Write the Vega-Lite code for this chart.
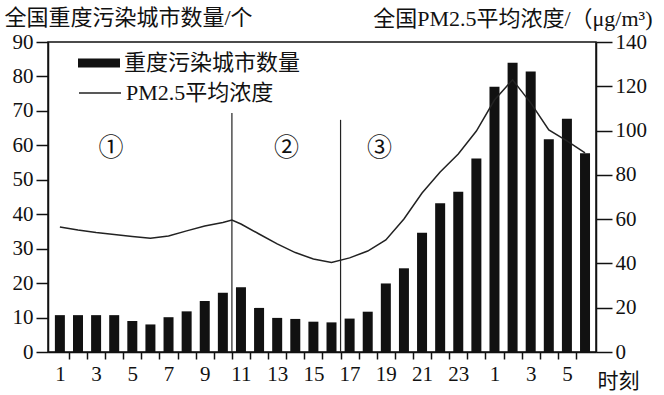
{
  "$schema": "https://vega.github.io/schema/vega-lite/v6.json",
  "width": 548,
  "height": 310,
  "autosize": "none",
  "padding": {"left": 48, "top": 42, "right": 68, "bottom": 43},
  "background": "white",
  "config": {
    "view": {"stroke": "#111", "strokeWidth": 1.5},
    "font": "Liberation Serif, Noto Sans CJK SC",
    "axis": {
      "domainColor": "#111", "domainWidth": 1.5, "tickColor": "#111", "tickWidth": 1.5,
      "labelColor": "#111", "titleColor": "#111", "grid": false,
      "labelFont": "Liberation Serif", "labelFontSize": 21,
      "titleFont": "Liberation Serif, Noto Sans CJK SC", "titleFontWeight": "normal", "titleLimit": 600
    },
    "legend": {"padding": 0, "labelColor": "#111", "labelFont": "Liberation Serif, Noto Sans CJK SC", "labelFontSize": 22, "labelOffset": 4, "labelLimit": 600}
  },
  "datasets": {
    "hourly": [
      {"idx": 1, "count": 10.7}, {"idx": 2, "count": 10.7}, {"idx": 3, "count": 10.7},
      {"idx": 4, "count": 10.7}, {"idx": 5, "count": 9.0}, {"idx": 6, "count": 8.0},
      {"idx": 7, "count": 10.1}, {"idx": 8, "count": 11.8}, {"idx": 9, "count": 14.8},
      {"idx": 10, "count": 17.2}, {"idx": 11, "count": 18.8}, {"idx": 12, "count": 12.8},
      {"idx": 13, "count": 9.9}, {"idx": 14, "count": 9.6}, {"idx": 15, "count": 8.8},
      {"idx": 16, "count": 8.6}, {"idx": 17, "count": 9.7}, {"idx": 18, "count": 11.7},
      {"idx": 19, "count": 19.9}, {"idx": 20, "count": 24.3}, {"idx": 21, "count": 34.6},
      {"idx": 22, "count": 43.2}, {"idx": 23, "count": 46.5}, {"idx": 24, "count": 56.2},
      {"idx": 25, "count": 77.0}, {"idx": 26, "count": 84.0}, {"idx": 27, "count": 81.4},
      {"idx": 28, "count": 61.8}, {"idx": 29, "count": 67.7}, {"idx": 30, "count": 57.7}
    ],
    "pm": [
      {"idx": 1, "pm": 56.5}, {"idx": 2, "pm": 55.1}, {"idx": 3, "pm": 54.0},
      {"idx": 4, "pm": 53.1}, {"idx": 5, "pm": 52.2}, {"idx": 6, "pm": 51.4},
      {"idx": 7, "pm": 52.4}, {"idx": 8, "pm": 54.7}, {"idx": 9, "pm": 56.9},
      {"idx": 10, "pm": 58.5}, {"idx": 10.5, "pm": 59.6}, {"idx": 11, "pm": 57.8},
      {"idx": 12, "pm": 53.3}, {"idx": 13, "pm": 48.8}, {"idx": 14, "pm": 44.9},
      {"idx": 15, "pm": 42.0}, {"idx": 16, "pm": 40.4}, {"idx": 17, "pm": 42.5},
      {"idx": 18, "pm": 45.6}, {"idx": 19, "pm": 50.6}, {"idx": 20, "pm": 60.1},
      {"idx": 21, "pm": 71.8}, {"idx": 22, "pm": 81.3}, {"idx": 23, "pm": 89.4},
      {"idx": 24, "pm": 99.8}, {"idx": 25, "pm": 113.8}, {"idx": 26, "pm": 122.9},
      {"idx": 27, "pm": 112.5}, {"idx": 28, "pm": 100.3}, {"idx": 29, "pm": 95.3},
      {"idx": 30, "pm": 89.9}
    ],
    "dividers": [
      {"idx": 10.5, "count": 69.4},
      {"idx": 16.5, "count": 67.4}
    ],
    "zones": [
      {"idx": 3.82, "count": 59.1, "label": "①"},
      {"idx": 13.52, "count": 59.1, "label": "②"},
      {"idx": 18.65, "count": 59.1, "label": "③"}
    ]
  },
  "encoding": {
    "x": {
      "field": "idx", "type": "quantitative",
      "scale": {"domain": [0.62, 30.33], "nice": false, "zero": false},
      "axis": {
        "values": [1, 1.5, 2, 2.5, 3, 3.5, 4, 4.5, 5, 5.5, 6, 6.5, 7, 7.5, 8, 8.5, 9, 9.5, 10, 10.5, 11, 11.5, 12, 12.5, 13, 13.5, 14, 14.5, 15, 15.5, 16, 16.5, 17, 17.5, 18, 18.5, 19, 19.5, 20, 20.5, 21, 21.5, 22, 22.5, 23, 23.5, 24, 24.5, 25, 25.5, 26, 26.5, 27, 27.5, 28, 28.5, 29, 29.5],
        "labelExpr": "(datum.value % 2 == 1) ? '' + (datum.value > 24 ? datum.value - 24 : datum.value) : ''",
        "labelOverlap": false, "labelFlush": false, "labelBound": false,
        "tickSize": 7, "labelPadding": 4,
        "tickOpacity": {"condition": {"test": "datum.value % 1 == 0", "value": 0}, "value": 1},
        "title": "时刻", "titleFontSize": 21, "titleAngle": 0,
        "titleAlign": "left", "titleBaseline": "middle", "titleX": 549, "titleY": 29
      }
    }
  },
  "layer": [
    {
      "encoding": {
        "y": {
          "field": "count", "type": "quantitative",
          "scale": {"domain": [0, 90], "nice": false},
          "axis": {
            "orient": "left", "values": [0, 10, 20, 30, 40, 50, 60, 70, 80, 90],
            "tickSize": 12, "labelPadding": 3,
            "title": "全国重度污染城市数量/个", "titleFontSize": 22, "titleAngle": 0,
            "titleAlign": "left", "titleBaseline": "middle", "titleX": -44, "titleY": -25
          }
        }
      },
      "layer": [
        {
          "data": {"name": "hourly"},
          "mark": {"type": "bar", "size": 10, "orient": "vertical", "color": "#111"},
          "encoding": {
            "fill": {
              "datum": "重度污染城市数量", "type": "nominal",
              "scale": {"range": ["#111"]},
              "legend": {
                "orient": "none", "legendX": 30, "legendY": 0, "title": null,
                "symbolType": "M-1,-0.214H1V0.214H-1Z", "symbolSize": 1764, "symbolStrokeWidth": 0
              }
            }
          }
        },
        {
          "data": {"name": "dividers"},
          "mark": {"type": "rule", "color": "#222", "strokeWidth": 1.2},
          "encoding": {
            "y2": {"datum": 0}
          }
        },
        {
          "data": {"name": "zones"},
          "mark": {"type": "text", "fontSize": 25, "color": "#111", "baseline": "middle", "align": "center", "font": "Noto Sans CJK SC"},
          "encoding": {
            "text": {"field": "label"}
          }
        }
      ]
    },
    {
      "data": {"name": "pm"},
      "mark": {"type": "line", "strokeWidth": 1.5},
      "encoding": {
        "y": {
          "field": "pm", "type": "quantitative",
          "scale": {"domain": [0, 140], "nice": false},
          "axis": {
            "orient": "right", "values": [0, 20, 40, 60, 80, 100, 120, 140],
            "tickSize": 16, "labelPadding": 3,
            "title": "全国PM2.5平均浓度/（μg/m³)", "titleFontSize": 22, "titleAngle": 0,
            "titleAlign": "right", "titleBaseline": "middle", "titleX": 56, "titleY": -24
          }
        },
        "stroke": {
          "datum": "PM2.5平均浓度", "type": "nominal",
          "scale": {"range": ["#222"]},
          "legend": {
            "orient": "none", "legendX": 30, "legendY": 29, "title": null,
            "symbolType": "stroke", "symbolSize": 1764, "symbolStrokeWidth": 1.5
          }
        }
      }
    }
  ],
  "resolve": {"scale": {"y": "independent"}}
}
